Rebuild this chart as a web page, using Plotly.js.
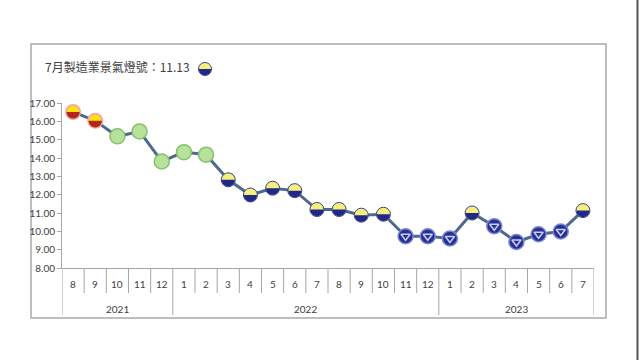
<!DOCTYPE html>
<html>
<head>
<meta charset="utf-8">
<script src="https://cdn.plot.ly/plotly-3.0.1.min.js"></script>
<style>
  html, body { margin: 0; padding: 0; background: #ffffff; }
  #chart { width: 640px; height: 360px; }
</style>
</head>
<body>
<div id="chart"></div>
<script>
// ---- data ----
const months = [8, 9, 10, 11, 12, 1, 2, 3, 4, 5, 6, 7, 8, 9, 10, 11, 12, 1, 2, 3, 4, 5, 6, 7];
const yearLabels = ['2021', '2022', '2023'];
const yearMonthCounts = [5, 12, 7];
const values = [16.51, 16.03, 15.18, 15.45, 13.81, 14.32, 14.18, 12.81, 11.98, 12.35, 12.22, 11.19,
                11.19, 10.88, 10.93, 9.73, 9.73, 9.61, 11.0, 10.28, 9.42, 9.84, 9.99, 11.13];
// light signal of each month: yr = yellow-red, g = green, yb = yellow-blue, b = blue
const signals = ['yr', 'yr', 'g', 'g', 'g', 'g', 'g', 'yb', 'yb', 'yb', 'yb', 'yb', 'yb', 'yb', 'yb',
                 'b', 'b', 'b', 'yb', 'b', 'b', 'b', 'b', 'yb'];
const titleText = '7月製造業景氣燈號：11.13';
const titleSignal = 'yb';

// ---- layout geometry (pixels) ----
const L = 62, R = 594, T = 103, B = 268, W = 640, H = 360;
const px = p => (p - L) / (R - L);
const py = p => (B - p) / (B - T);

const xs = values.map((_, i) => i);
const lineGrey = '#a6a6a6';
const textCol = '#404040';

const style = {
  yr: { fill: '#ffe600', edge: '#f3aaa2', ew: 2, size: 14, bottom: '#b3261c' },
  g:  { fill: '#b7e19d', edge: '#86c26a', ew: 1.5, size: 15 },
  yb: { fill: '#f6f07a', edge: '#3a3f96', ew: 1, size: 14, bottom: '#20288a' },
  b:  { fill: '#29318f', edge: '#7b86d6', ew: 1.5, size: 15 }
};

const traces = [{
  x: xs, y: values, type: 'scatter', mode: 'lines',
  line: { color: '#4d6a8e', width: 3 }, hoverinfo: 'skip', cliponaxis: false
}];
['yr', 'g', 'yb', 'b'].forEach(k => {
  const idx = xs.filter(i => signals[i] === k);
  const s = style[k];
  traces.push({
    x: idx, y: idx.map(i => values[i]), type: 'scatter', mode: 'markers', cliponaxis: false,
    marker: { symbol: 'circle', size: s.size, color: s.fill, line: { color: s.edge, width: s.ew } }
  });
});
const bIdx = xs.filter(i => signals[i] === 'b');
traces.push({
  x: bIdx, y: bIdx.map(i => values[i]), type: 'scatter', mode: 'markers', cliponaxis: false,
  marker: { symbol: 'triangle-down-open', size: 8, color: '#c7cdfb', line: { width: 1.5 } }
});

// bottom half-circle path in pixel units (positive y is up)
function halfPath(r) {
  const k = 0.5523 * r;
  return `M ${r},0 C ${r},${-k} ${k},${-r} 0,${-r} C ${-k},${-r} ${-r},${-k} ${-r},0 Z`;
}

const shapes = [];
xs.forEach(i => {
  const s = style[signals[i]];
  if (s.bottom) {
    shapes.push({
      type: 'path', xref: 'x', yref: 'y', xsizemode: 'pixel', ysizemode: 'pixel',
      xanchor: i, yanchor: values[i], path: halfPath(6.6),
      fillcolor: s.bottom, line: { width: 0 }, layer: 'above'
    });
  }
});

// category box lines
const total = months.length;
let boundaries = [0];
yearMonthCounts.reduce((acc, c) => { boundaries.push(acc + c); return acc + c; }, 0);
for (let k = 0; k <= total; k++) {
  const isYear = boundaries.includes(k);
  shapes.push({
    type: 'line', xref: 'x', yref: 'paper', x0: k - 0.5, x1: k - 0.5,
    y0: 0, y1: isYear ? py(315) : py(293), line: { color: lineGrey, width: 1 }
  });
}

// outer frame and image edge line
shapes.push({
  type: 'rect', xref: 'paper', yref: 'paper', x0: px(31), x1: px(606), y0: py(318), y1: py(44),
  line: { color: '#a9a9a9', width: 1.5 }, fillcolor: 'rgba(0,0,0,0)', layer: 'below'
});
shapes.push({
  type: 'line', xref: 'paper', yref: 'paper', x0: px(637.5), x1: px(637.5), y0: py(360), y1: py(0),
  line: { color: '#555555', width: 2 }
});

// title icon
const iconX = px(205), iconY = py(69);
shapes.push({
  type: 'circle', xref: 'paper', yref: 'paper', xsizemode: 'pixel', ysizemode: 'pixel',
  xanchor: iconX, yanchor: iconY, x0: -6.5, x1: 6.5, y0: -6.5, y1: 6.5,
  fillcolor: style[titleSignal].fill, line: { color: style[titleSignal].edge, width: 1 }
});
shapes.push({
  type: 'path', xref: 'paper', yref: 'paper', xsizemode: 'pixel', ysizemode: 'pixel',
  xanchor: iconX, yanchor: iconY, path: halfPath(6.2),
  fillcolor: style[titleSignal].bottom, line: { width: 0 }
});

// category labels
const annotations = [];
const catFont = { family: 'Lato, "Liberation Sans", sans-serif', size: 10, color: textCol };
months.forEach((m, i) => {
  annotations.push({
    x: i, xref: 'x', y: py(284), yref: 'paper', text: String(m), showarrow: false,
    xanchor: 'center', yanchor: 'middle', font: catFont
  });
});
let start = 0;
yearLabels.forEach((yl, j) => {
  const c = yearMonthCounts[j];
  annotations.push({
    x: start + (c - 1) / 2, xref: 'x', y: py(309), yref: 'paper', text: yl, showarrow: false,
    xanchor: 'center', yanchor: 'middle', font: catFont
  });
  start += c;
});
annotations.push({
  x: px(43), xref: 'paper', y: py(67), yref: 'paper', text: titleText, showarrow: false,
  xanchor: 'left', yanchor: 'middle',
  font: { family: '"Noto Sans CJK TC", "Noto Sans", sans-serif', size: 12, color: textCol }
});

const layout = {
  width: W, height: H,
  margin: { l: L, r: W - R, t: T, b: H - B, pad: 0 },
  paper_bgcolor: '#ffffff', plot_bgcolor: '#ffffff',
  showlegend: false,
  xaxis: {
    range: [-0.5, total - 0.5], showticklabels: false, ticks: '', showgrid: false, zeroline: false,
    showline: true, linecolor: lineGrey, linewidth: 1, fixedrange: true
  },
  yaxis: {
    range: [8, 17], dtick: 1, tick0: 8, tickformat: '.2f', ticks: 'outside', ticklen: 4,
    tickcolor: lineGrey, showgrid: false, zeroline: false, showline: true, linecolor: lineGrey,
    linewidth: 1, tickfont: { family: 'Lato, "Liberation Sans", sans-serif', size: 10, color: textCol },
    fixedrange: true
  },
  shapes: shapes,
  annotations: annotations
};

Plotly.newPlot('chart', traces, layout, { staticPlot: true, displayModeBar: false });
</script>
</body>
</html>
